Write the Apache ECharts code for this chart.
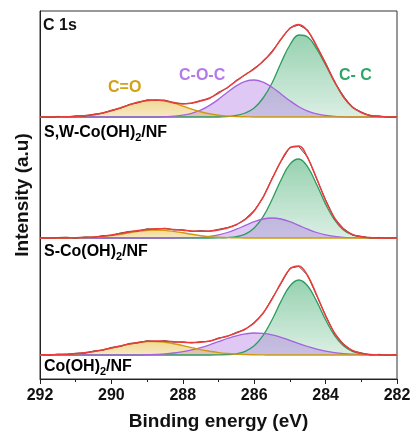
<!DOCTYPE html>
<html>
<head>
<meta charset="utf-8">
<script src="https://cdn.jsdelivr.net/npm/echarts@6/dist/echarts.min.js"></script>
<style>
html, body { margin: 0; padding: 0; background: #fff; }
#chart { width: 414px; height: 436px; }
</style>
</head>
<body>
<div id="chart"></div>
<script>
// binding energy (eV) shared by every spectrum
const energy = [292, 291.75, 291.5, 291.25, 291, 290.75, 290.5, 290.25, 290, 289.75,
  289.5, 289.25, 289, 288.75, 288.5, 288.25, 288, 287.75, 287.5, 287.25,
  287, 286.75, 286.5, 286.25, 286, 285.75, 285.5, 285.25, 285, 284.75,
  284.5, 284.25, 284, 283.75, 283.5, 283.25, 283, 282.75, 282.5, 282.25, 282];

// S,W-Co(OH)2/NF (top)
const swRaw = [0.5, -0.5, 0.6, 0.2, 1.2, 0.8, 2.8, 3.6, 6.8, 8.6, 12.6, 14.3, 17.2, 16.6, 16.9, 14.1, 13.5, 13.6, 16.6, 18.4,
  24.8, 29, 36.8, 42, 48.9, 55.2, 66, 77.4, 89.3, 92, 86.9, 70.3, 54.2, 35, 21, 9.4, 5.1, 1, 1.1, -0.4, 0.3];
const swFit = [0, 0, 0.1, 0.3, 0.6, 1.2, 2.3, 4, 6.3, 9.1, 12.1, 14.8, 16.5, 17.1, 16.3, 14.6, 13, 14, 16, 19,
  24, 29.5, 36, 42.5, 48, 56, 65, 78, 88.5, 92.5, 86, 71, 53.5, 35.6, 20.2, 10, 4.5, 1.5, 0.5, 0, 0];
const swCO = [0, 0, 0.1, 0.3, 0.6, 1.2, 2.3, 4, 6.3, 9.1, 12.1, 14.8, 16.5, 17, 16, 13.8, 10.9, 7.9, 5.3, 3.2,
  1.8, 0.9, 0.4, 0.2, 0, 0, 0, 0, 0, 0, 0, 0, 0, 0, 0, 0, 0, 0, 0, 0, 0];
const swCOC = [0, 0, 0, 0, 0, 0, 0, 0, 0, 0, 0, 0, 0, 0, 0.3, 0.8, 1.8, 3.7, 6.8, 11.6,
  17.7, 24.7, 31.1, 35.6, 37, 34.8, 29.7, 23, 16.2, 10.3, 5.9, 3.1, 1.5, 0.6, 0.2, 0, 0, 0, 0, 0, 0];
const swCC = [0, 0, 0, 0, 0, 0, 0, 0, 0, 0, 0, 0, 0, 0, 0, 0, 0, 0, 0, 0,
  0, 0.5, 1.5, 4, 9, 19, 34, 54, 72, 82, 80, 68, 52, 35, 20, 10, 4.5, 1.5, 0.5, 0, 0];

// S-Co(OH)2/NF (middle)
const sRaw = [0.6, -0.3, 0.5, 0.8, -0.2, 1.1, 0.6, 2.4, 2.6, 5, 6.6, 7, 9.2, 8.8, 9.8, 8.1, 8.3, 6.5, 7.4, 6.6,
  8.7, 10.5, 13, 19.2, 27.6, 40.2, 59.8, 76.4, 90.8, 91.4, 80.7, 59, 38.3, 19.4, 9.6, 3, 1.7, 0, 0.6, -0.3, 0.4];
const sFit = [0, 0, 0, 0.1, 0.3, 0.6, 1, 1.8, 3, 4.4, 6, 7.5, 8.6, 9.2, 9.2, 8.6, 7.8, 7, 6.8, 7,
  8, 10, 13.5, 18.5, 27, 41, 59, 77, 90, 92, 80, 59.5, 37.5, 20, 9, 3.5, 1.2, 0.4, 0, 0, 0];
const sCO = [0, 0, 0, 0, 0.2, 0.4, 0.7, 1.4, 2.4, 3.7, 5.2, 6.6, 7.6, 8, 7.6, 6.6, 5.2, 3.7, 2.4, 1.4,
  0.7, 0.4, 0.2, 0, 0, 0, 0, 0, 0, 0, 0, 0, 0, 0, 0, 0, 0, 0, 0, 0, 0];
const sCOC = [0, 0, 0, 0, 0, 0, 0, 0, 0, 0, 0, 0, 0, 0, 0, 0, 0.1, 0.3, 0.7, 1.6,
  3.1, 5.5, 8.8, 12.6, 16.3, 19, 20, 19, 16.3, 12.6, 8.8, 5.5, 3.1, 1.6, 0.7, 0.3, 0.1, 0, 0, 0, 0];
const sCC = [0, 0, 0, 0, 0, 0, 0, 0, 0, 0, 0, 0, 0, 0, 0, 0, 0, 0, 0, 0,
  0.1, 0.4, 1.3, 3.9, 10, 21.4, 38.5, 58, 73.9, 79, 70.9, 53.5, 33.9, 18.1, 8.1, 3.1, 1, 0.3, 0, 0, 0];

// Co(OH)2/NF (bottom)
const coRaw = [0.5, -0.2, 0.9, 0.4, 1.8, 1.7, 4, 4.6, 7.6, 8.5, 11.6, 12.1, 14.3, 13.5, 14.4, 12.8, 13.2, 12, 13.4, 13.6,
  17.1, 18.5, 22.7, 25.4, 32.8, 41.3, 56.7, 71.3, 86.8, 88.6, 79.6, 59.3, 39.8, 21.4, 11.2, 4, 2.2, 0, 0.7, -0.3, 0.2];
const coFit = [0, 0.2, 0.4, 0.8, 1.3, 2.2, 3.5, 5.1, 7, 9, 11, 12.6, 13.7, 14, 13.8, 13.3, 12.7, 12.5, 12.8, 14,
  16.5, 19, 22, 26, 32, 42, 56, 72, 86, 89, 79, 60, 39, 22, 10.6, 4.5, 1.6, 0.5, 0.1, 0, 0];
const coCO = [0, 0.2, 0.4, 0.8, 1.3, 2.2, 3.5, 5.1, 7, 9, 10.9, 12.5, 13.4, 13.4, 12.7, 11.3, 9.4, 7.4, 5.4, 3.8,
  2.4, 1.5, 0.9, 0.5, 0.2, 0.1, 0, 0, 0, 0, 0, 0, 0, 0, 0, 0, 0, 0, 0, 0, 0];
const coCOC = [0, 0, 0, 0, 0, 0, 0, 0, 0, 0, 0, 0, 0.3, 0.6, 1.1, 2, 3.3, 5.1, 7.4, 10.2,
  13.3, 16.5, 19.2, 21.1, 22, 21.6, 20.1, 17.6, 14.6, 11.4, 8.5, 5.9, 3.9, 2.4, 1.4, 0.8, 0.4, 0.2, 0.1, 0, 0];
const coCC = [0, 0, 0, 0, 0, 0, 0, 0, 0, 0, 0, 0, 0, 0, 0, 0, 0, 0, 0, 0,
  0.1, 0.3, 1.2, 3.7, 9.2, 19.6, 35.2, 53.6, 69, 75, 69, 53.6, 35.2, 19.6, 9.2, 3.7, 1.2, 0.3, 0.1, 0, 0];

const FONT = "'Liberation Sans', Arial, sans-serif";

const panels = [
  { raw: swRaw, fit: swFit, co: swCO, coc: swCOC, cc: swCC, top: 11, height: 108 },
  { raw: sRaw, fit: sFit, co: sCO, coc: sCOC, cc: sCC, top: 119, height: 121 },
  { raw: coRaw, fit: coFit, co: coCO, coc: coCOC, cc: coCC, top: 240, height: 117 }
];

function pts(vals) {
  return energy.map((e, i) => [e, vals[i]]);
}

function grad(rgb, a0, a1) {
  return {
    type: 'linear', x: 0, y: 0, x2: 0, y2: 1,
    colorStops: [
      { offset: 0, color: 'rgba(' + rgb + ',' + a0 + ')' },
      { offset: 1, color: 'rgba(' + rgb + ',' + a1 + ')' }
    ]
  };
}

let grids = [{ left: 40, right: 17, top: 11, bottom: 57, show: true, borderColor: '#333', borderWidth: 1 }];
let xAxes = [{
  gridIndex: 0, type: 'value', min: 282, max: 292, interval: 2, inverse: true,
  axisLine: { show: true, lineStyle: { color: '#222', width: 1 } },
  axisTick: { show: true, inside: false, length: 5, lineStyle: { color: '#222' } },
  minorTick: { show: true, splitNumber: 2, length: 3, lineStyle: { color: '#222' } },
  splitLine: { show: false },
  axisLabel: { color: '#111', fontSize: 16, fontWeight: 'bold', fontFamily: FONT, margin: 9 },
  name: 'Binding energy (eV)', nameLocation: 'middle', nameGap: 33,
  nameTextStyle: { color: '#111', fontSize: 19, fontWeight: 'bold', fontFamily: FONT }
}];
let yAxes = [{
  gridIndex: 0, type: 'value', min: 0, max: 1,
  axisLine: { show: true, lineStyle: { color: '#222', width: 1 } },
  axisTick: { show: false }, axisLabel: { show: false }, splitLine: { show: false },
  name: 'Intensity (a.u)', nameLocation: 'middle', nameGap: 8,
  nameTextStyle: { color: '#111', fontSize: 19, fontWeight: 'bold', fontFamily: FONT }
}];
let series = [];

panels.forEach((p, k) => {
  const idx = k + 1;
  grids.push({ left: 40, right: 17, top: p.top, height: p.height });
  xAxes.push({ gridIndex: idx, type: 'value', min: 282, max: 292, inverse: true, show: false });
  yAxes.push({ gridIndex: idx, type: 'value', min: -2, max: p.height - 2, show: false });
  const base = { type: 'line', xAxisIndex: idx, yAxisIndex: idx, symbol: 'none', smooth: 0.4, silent: true };
  series.push(Object.assign({}, base, {
    data: pts(p.cc), lineStyle: { color: '#2c9b5f', width: 1.3 },
    areaStyle: { color: grad('50,165,100', 0.72, 0.25) }
  }));
  series.push(Object.assign({}, base, {
    data: pts(p.coc), lineStyle: { color: '#a462de', width: 1.3 },
    areaStyle: { color: 'rgba(170,105,228,0.52)' }
  }));
  series.push(Object.assign({}, base, {
    data: pts(p.co), lineStyle: { color: '#cf9a0e', width: 1.4 },
    areaStyle: { color: grad('228,178,45', 0.72, 0.42) }
  }));
  series.push(Object.assign({}, base, {
    data: pts(p.raw), smooth: false, lineStyle: { color: '#4a4a4a', width: 1 }
  }));
  series.push(Object.assign({}, base, {
    data: pts(p.fit), lineStyle: { color: '#ec3b3b', width: 1.5 }
  }));
});

function label(x, y, text, color, size) {
  return {
    type: 'text', x: x, y: y, z: 100,
    style: { text: text, fill: color, font: 'bold ' + size + 'px ' + FONT, align: 'left', verticalAlign: 'middle' }
  };
}

function sampleLabel(x, y, pre, post) {
  const a = { fontSize: 16, fontWeight: 'bold', fontFamily: FONT, color: '#111', lineHeight: 20 };
  return {
    type: 'text', x: x, y: y, z: 100,
    style: {
      text: '{a|' + pre + '}{b|2}{a|' + post + '}',
      align: 'left', verticalAlign: 'middle',
      rich: {
        a: a,
        b: { fontSize: 11, fontWeight: 'bold', fontFamily: FONT, color: '#111', lineHeight: 11, verticalAlign: 'bottom' }
      }
    }
  };
}

const chart = echarts.init(document.getElementById('chart'));
chart.setOption({
  animation: false,
  grid: grids,
  xAxis: xAxes,
  yAxis: yAxes,
  series: series,
  graphic: [
    label(43, 26, 'C 1s', '#111', 16),
    label(108, 88, 'C=O', '#d4a017', 16),
    label(179, 76, 'C-O-C', '#b47be6', 16),
    label(339, 76, 'C- C', '#2fa76a', 16),
    sampleLabel(44, 133, 'S,W-Co(OH)', '/NF'),
    sampleLabel(44, 252, 'S-Co(OH)', '/NF'),
    sampleLabel(44, 367, 'Co(OH)', '/NF')
  ]
});
</script>
</body>
</html>
